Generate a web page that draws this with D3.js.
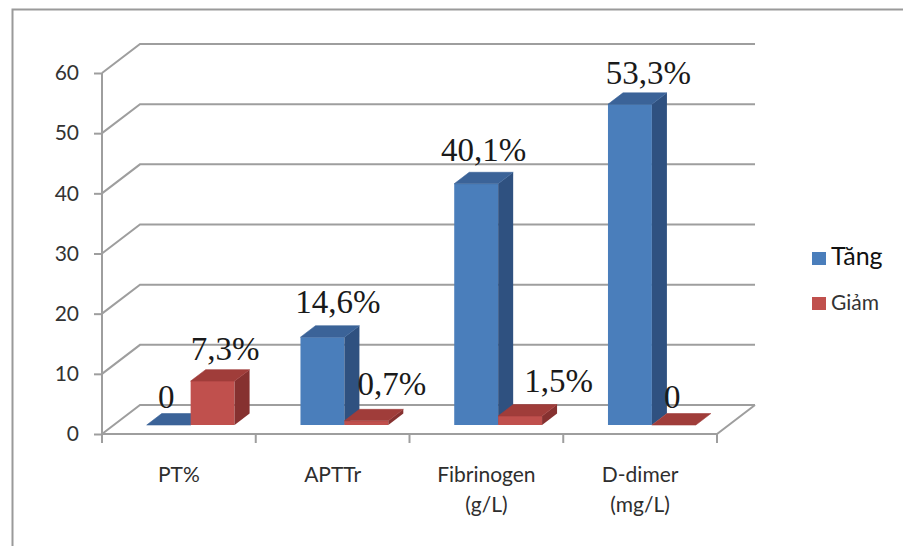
<!DOCTYPE html>
<html>
<head>
<meta charset="utf-8">
<script src="https://cdn.jsdelivr.net/npm/d3@7/dist/d3.min.js"></script>
<style>
  html, body { margin: 0; padding: 0; background: #fff; }
  svg { display: block; }
</style>
</head>
<body>
<svg id="chart" width="903" height="546"></svg>
<script>
// Categories and series values (percent of patients)
const categories = ["PT%", "APTTr", "Fibrinogen|(g/L)", "D-dimer|(mg/L)"];
const seriesNames = ["Tăng", "Giảm"];
const tangValues = [0, 14.6, 40.1, 53.3];
const giamValues = [7.3, 0.7, 1.5, 0];
const yTickValues = [0, 10, 20, 30, 40, 50, 60];

// Colours per series: front, top, side faces
const palette = {
  "Tăng": { front: "#4a7ebb", top: "#3b6398", side: "#2f5180", key: "#4a7ebb" },
  "Giảm": { front: "#c0504d", top: "#a03d3a", side: "#863130", key: "#c0504d" }
};

// Hand-placed label nudges [dx, dy] for each series, by category
const labelNudge = {
  "Tăng": [[-10, 5], [8, -2], [0, 0], [11, 2]],
  "Giảm": [[5, 1], [18, -3], [31, -2], [-9, 5]]
};

const svg = d3.select("#chart");

// Chart frame
svg.append("rect")
  .attr("x", 12.5).attr("y", 9.5)
  .attr("width", 1000).attr("height", 1000)
  .attr("fill", "none").attr("stroke", "#9a9a9a").attr("stroke-width", 2);

// Oblique projection: depth d in [0,1] shifts right and up
const DX = 38, DY = 29;
const P = (x, y, d) => [x + d * DX, y - d * DY];

const x = d3.scaleBand().domain(categories).range([102, 717]).paddingInner(0).paddingOuter(0);
const xSub = d3.scaleBand().domain(seriesNames).range([0, x.bandwidth()]).paddingInner(0).paddingOuter(0.75);
const y = d3.scaleLinear().domain([0, 60]).range([434, 73]);

const gridColor = "#9e9e9e";
const grid = svg.append("g").attr("fill", "none").attr("stroke", gridColor).attr("stroke-width", 2);

// Gridlines: side wall diagonal then along the back wall
const x0 = x.range()[0], x1 = x.range()[1];
yTickValues.forEach(v => {
  const a = P(x0, y(v), 0), b = P(x0, y(v), 1), c = P(x1, y(v), 1);
  grid.append("path").attr("d", d3.line()([a, b, c]));
});

// Floor front edge and right edge
{
  const a = P(x0, y(0), 0), b = P(x1, y(0), 0), c = P(x1, y(0), 1);
  grid.append("path").attr("d", d3.line()([a, b, c]));
}

// Front vertical axis line
grid.append("line")
  .attr("x1", x0).attr("x2", x0)
  .attr("y1", y(60)).attr("y2", y(0) + 9);

// Category boundary ticks
const boundaries = categories.map(c => x(c)).concat([x1]);
boundaries.slice(1).forEach(bx => {
  grid.append("line").attr("x1", bx).attr("x2", bx).attr("y1", y(0)).attr("y2", y(0) + 9);
});

// Value axis labels and ticks
const yAxis = d3.axisLeft(y).tickValues(yTickValues).tickSize(8).tickPadding(15).tickFormat(d3.format("d"));
const yg = svg.append("g").attr("transform", `translate(${x0},0)`).call(yAxis);
yg.select(".domain").remove();
yg.selectAll(".tick line").attr("stroke", gridColor).attr("stroke-width", 2);
yg.selectAll(".tick text")
  .attr("font-family", "Lato, 'Open Sans', sans-serif")
  .attr("font-size", 21).attr("fill", "#333");

// Bars
const D0 = 0.31, D1 = 0.705;
const bars = [];
categories.forEach((c, i) => {
  seriesNames.forEach(s => {
    const v = s === "Tăng" ? tangValues[i] : giamValues[i];
    bars.push({ cat: c, i, series: s, value: v });
  });
});

const barG = svg.append("g");
bars.forEach(b => {
  const xl = x(b.cat) + xSub(b.series);
  const xr = xl + xSub.bandwidth();
  const yb = y(0), yt = y(b.value);
  const col = palette[b.series];
  const front = [P(xl, yb, D0), P(xr, yb, D0), P(xr, yt, D0), P(xl, yt, D0)];
  const side = [P(xr, yb, D0), P(xr, yb, D1), P(xr, yt, D1), P(xr, yt, D0)];
  const top = [P(xl, yt, D0), P(xr, yt, D0), P(xr, yt, D1), P(xl, yt, D1)];
  const poly = pts => "M" + pts.map(p => p.join(",")).join("L") + "Z";
  barG.append("path").attr("d", poly(front)).attr("fill", col.front);
  barG.append("path").attr("d", poly(side)).attr("fill", col.side);
  barG.append("path").attr("d", poly(top)).attr("fill", col.top)
    .attr("stroke", col.top).attr("stroke-width", 0.6);
});

// Data labels
const fmt = d3.formatLocale({ decimal: ",", thousands: ".", grouping: [3], currency: ["", ""] }).format(".1f");
const labelText = v => v === 0 ? "0" : fmt(v) + "%";
const labG = svg.append("g")
  .attr("font-family", "'Liberation Serif', 'Times New Roman', serif")
  .attr("font-size", 33).attr("fill", "#1a1a1a").attr("text-anchor", "middle");
bars.forEach(b => {
  const xl = x(b.cat) + xSub(b.series);
  const xr = xl + xSub.bandwidth();
  const yt = y(b.value);
  const cx = (P(xl, yt, D0)[0] + P(xr, yt, D1)[0]) / 2;
  const backY = P(xl, yt, D1)[1];
  const [ndx, ndy] = labelNudge[b.series][b.i];
  labG.append("text")
    .attr("x", cx + ndx).attr("y", backY - 11 + ndy)
    .text(labelText(b.value));
});

// Category labels
const catG = svg.append("g")
  .attr("font-family", "Lato, 'Open Sans', sans-serif")
  .attr("font-size", 21).attr("fill", "#2e2e2e").attr("text-anchor", "middle");
categories.forEach(c => {
  const t = catG.append("text").attr("x", x(c) + x.bandwidth() / 2).attr("y", 482);
  c.split("|").forEach((line, k) => {
    t.append("tspan").attr("x", x(c) + x.bandwidth() / 2).attr("dy", k === 0 ? 0 : 30).text(line);
  });
});

// Legend
const legend = svg.append("g").attr("font-family", "Lato, 'Open Sans', sans-serif");
const legendRows = [
  { name: "Tăng", y: 252, size: 25, color: "#111" },
  { name: "Giảm", y: 297, size: 21, color: "#333" }
];
legendRows.forEach(r => {
  legend.append("rect").attr("x", 812).attr("y", r.y).attr("width", 14).attr("height", 13)
    .attr("fill", palette[r.name].key);
  legend.append("text").attr("x", 831).attr("y", r.y + 13)
    .attr("font-size", r.size).attr("fill", r.color).text(r.name);
});
</script>
</body>
</html>
